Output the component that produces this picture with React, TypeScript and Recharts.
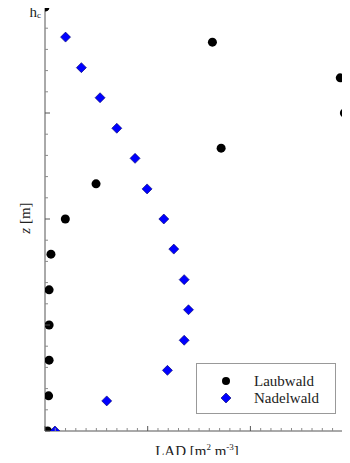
import React from "react";
import {
  ScatterChart,
  Scatter,
  XAxis,
  YAxis,
  Legend
} from "recharts";

// height above ground, as a fraction of canopy height h_c
const laubZ = [1, 0.917, 0.833, 0.75, 0.667, 0.583, 0.5, 0.417, 0.333, 0.25, 0.167, 0.083, 0];
const laubLAD = [0, 1.63, 2.875, 2.915, 1.715, 0.497, 0.198, 0.058, 0.04, 0.04, 0.04, 0.035, 0.025];

const nadelZ = [0.929, 0.857, 0.786, 0.714, 0.643, 0.571, 0.5, 0.429, 0.357, 0.286, 0.214, 0.143, 0.071, 0];
const nadelLAD = [0.2, 0.354, 0.536, 0.699, 0.877, 0.994, 1.157, 1.254, 1.355, 1.397, 1.355, 1.192, 0.601, 0.097];

const seriesNames = ["Laubwald", "Nadelwald"];

// the figure is cropped just short of LAD = 3
const xDomain = [0, 2.96];
const xMajor = [0, 1, 2];
const xMinor = Array.from({ length: 30 }, (_, i) => i / 10);
const yMajor = [0, 0.25, 0.5, 0.75, 1];
const yMinor = Array.from({ length: 21 }, (_, i) => i / 20);

const laubData = laubZ.map((z, i) => ({ lad: laubLAD[i], z }));
const nadelData = nadelZ.map((z, i) => ({ lad: nadelLAD[i], z }));

const FONT = '"Liberation Serif", "Times New Roman", serif';
const FRAME = "#555555";
const MINOR = "#8a8a8a";
const BLUE = "#0000ff";

const Dot = (props: any) => <circle cx={props.cx} cy={props.cy} r={4.5} fill="#000" />;

const Diamond = (props: any) => {
  const { cx, cy } = props;
  const h = 5;
  return (
    <polygon
      points={`${cx},${cy - h} ${cx + h},${cy} ${cx},${cy + h} ${cx - h},${cy}`}
      fill={BLUE}
      stroke="#000066"
      strokeWidth={0.6}
    />
  );
};

// tick marks point into the plot; majors are longer
const XTick = ({ x, y, payload, dir }: any) => {
  const major = xMajor.includes(payload.value);
  return <line x1={x} x2={x} y1={y} y2={y + dir * (major ? 5 : 3)} stroke={major ? FRAME : MINOR} />;
};

const YTick = ({ x, y, payload, dir, label }: any) => {
  const major = yMajor.includes(payload.value);
  const len = major ? 5 : 3;
  return (
    <g>
      <line x1={x} x2={x + dir * len} y1={y} y2={y} stroke={major ? FRAME : MINOR} />
      {label && payload.value === 1 && (
        <text x={x - 4} y={y + 10} textAnchor="end" fontFamily={FONT} fontSize={15} fill="#222">
          h<tspan fontSize={9} dy={1}>c</tspan>
        </text>
      )}
    </g>
  );
};

const renderLegend = () => (
  <div
    style={{
      boxSizing: "border-box",
      width: 140,
      height: 51,
      border: "1px solid #999",
      background: "#fff",
      paddingTop: 8.5,
      fontFamily: FONT,
      fontSize: 15,
      color: "#222"
    }}
  >
    {seriesNames.map((name, i) => (
      <div key={name} style={{ display: "flex", alignItems: "center", height: 17 }}>
        <svg width={10} height={10} style={{ marginLeft: 24, marginRight: 23 }}>
          {i === 0 ? (
            <circle cx={5} cy={5} r={4} fill="#000" />
          ) : (
            <polygon points="5,0 10,5 5,10 0,5" fill={BLUE} stroke="#000066" strokeWidth={0.6} />
          )}
        </svg>
        <span>{name}</span>
      </div>
    ))}
  </div>
);

export default function App() {
  return (
    <div style={{ margin: -8 }}>
      <ScatterChart width={350} height={463} margin={{ top: 0, right: 0, bottom: 0, left: 0 }}>
        <XAxis xAxisId="main" type="number" dataKey="lad" domain={xDomain} ticks={xMinor} interval={0}
          allowDataOverflow height={32} tickSize={0} tickMargin={0} tickLine={false}
          stroke={FRAME} tick={(p: any) => <XTick {...p} dir={-1} />} />
        <XAxis xAxisId="top" orientation="top" type="number" domain={xDomain} ticks={xMinor} interval={0}
          height={7} tickSize={0} tickMargin={0} tickLine={false}
          stroke={FRAME} tick={(p: any) => <XTick {...p} dir={1} />} />
        <YAxis yAxisId="main" type="number" dataKey="z" domain={[0, 1]} ticks={yMinor} interval={0}
          allowDataOverflow width={45} tickSize={0} tickMargin={0} tickLine={false}
          stroke={FRAME} tick={(p: any) => <YTick {...p} dir={1} label />} />
        <YAxis yAxisId="right" orientation="right" type="number" domain={[0, 1]} ticks={yMajor} interval={0}
          width={1} tickSize={0} tickMargin={0} tickLine={false} axisLine={false}
          tick={(p: any) => <YTick {...p} dir={-1} />} />

        <Scatter name={seriesNames[0]} data={laubData} xAxisId="main" yAxisId="main"
          fill="#000" shape={Dot} isAnimationActive={false} />
        <Scatter name={seriesNames[1]} data={nadelData} xAxisId="main" yAxisId="main"
          fill={BLUE} shape={Diamond} isAnimationActive={false} />

        <Legend layout="horizontal" verticalAlign="middle" align="center"
          wrapperStyle={{ left: 196, top: 363, width: 140, height: 51 }} content={renderLegend} />

        <text x={197} y={456} textAnchor="middle" fontFamily={FONT} fontSize={15} fill="#222">
          LAD [m<tspan fontSize={9} dy={-6}>2</tspan>
          <tspan dy={6}> m</tspan>
          <tspan fontSize={9} dy={-6}>-3</tspan>
          <tspan dy={6}>]</tspan>
        </text>
        <text x={30} y={218} textAnchor="middle" fontFamily={FONT} fontSize={15} fill="#222"
          transform="rotate(-90, 30, 218)">
          <tspan fontStyle="italic">z</tspan> [m]
        </text>
      </ScatterChart>
    </div>
  );
}
